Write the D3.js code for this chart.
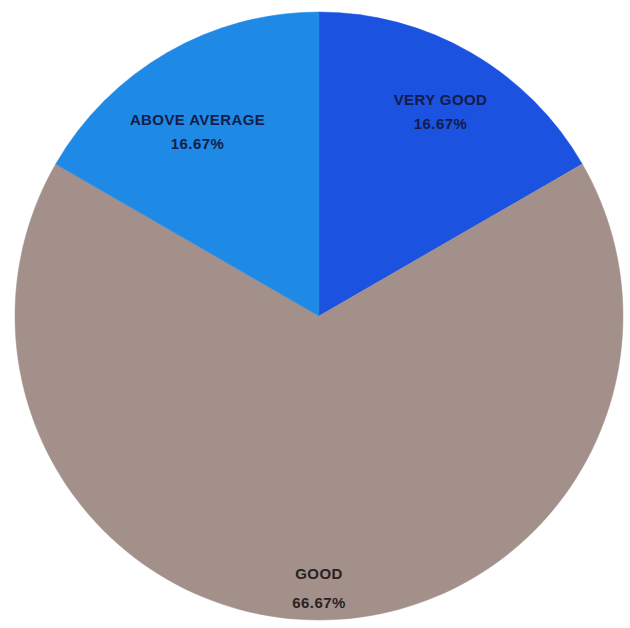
<!DOCTYPE html>
<html>
<head>
<meta charset="utf-8">
<script src="https://cdn.jsdelivr.net/npm/d3@7"></script>
<style>
  body { margin: 0; background: #fff; }
  svg { display: block; }
</style>
</head>
<body>
<svg width="630" height="628"></svg>
<script>
var categories = ["VERY GOOD", "GOOD", "ABOVE AVERAGE"];
var counts = [1, 4, 1];
var percentLabels = ["16.67%", "66.67%", "16.67%"];
var colors = ["#1b52e0", "#a3908a", "#1f8ae6"];

var svg = d3.select("svg"),
    width = +svg.attr("width"),
    height = +svg.attr("height");

var cx = 319, cy = 316, radius = 304;

var data = categories.map(function(c, i) {
    return { name: c, value: counts[i], pct: percentLabels[i], color: colors[i] };
});

var pie = d3.pie()
    .sort(null)
    .value(function(d) { return d.value; });

var arc = d3.arc().innerRadius(0).outerRadius(radius);

var g = svg.append("g").attr("transform", "translate(" + cx + "," + cy + ")");

g.selectAll("path")
    .data(pie(data))
    .enter().append("path")
      .attr("d", arc)
      .attr("fill", function(d) { return d.data.color; })
      .attr("stroke", function(d) { return d.data.color; })
      .attr("stroke-width", 0.5);

// labels sit inside each slice, the big one further out
function labelPos(d) {
    var r = d.data.name === "GOOD" ? 268 : 243;
    var a = (d.startAngle + d.endAngle) / 2;
    var y = -Math.cos(a) * r;
    if (d.data.name === "ABOVE AVERAGE") y += 25;
    if (d.data.name === "VERY GOOD") y += 5;
    return [Math.sin(a) * r, y];
}

var labels = g.selectAll("text.lab")
    .data(pie(data))
    .enter().append("text")
      .attr("class", "lab")
      .attr("transform", function(d) { return "translate(" + labelPos(d) + ")"; })
      .attr("text-anchor", "middle")
      .style("font-family", "'Liberation Sans Narrow', 'Liberation Sans', Arial, sans-serif")
      .style("font-weight", "bold")
      .style("font-size", "15px")
      .style("letter-spacing", "0.4px")
      .attr("fill", function(d) { return d.data.name === "GOOD" ? "#2a2222" : "#141c48"; });

labels.append("tspan")
    .attr("x", 0)
    .attr("dy", "-0.35em")
    .text(function(d) { return d.data.name; });

labels.append("tspan")
    .attr("x", 0)
    .attr("dy", function(d) { return d.data.name === "GOOD" ? "1.95em" : "1.6em"; })
    .text(function(d) { return d.data.pct; });
</script>
</body>
</html>
